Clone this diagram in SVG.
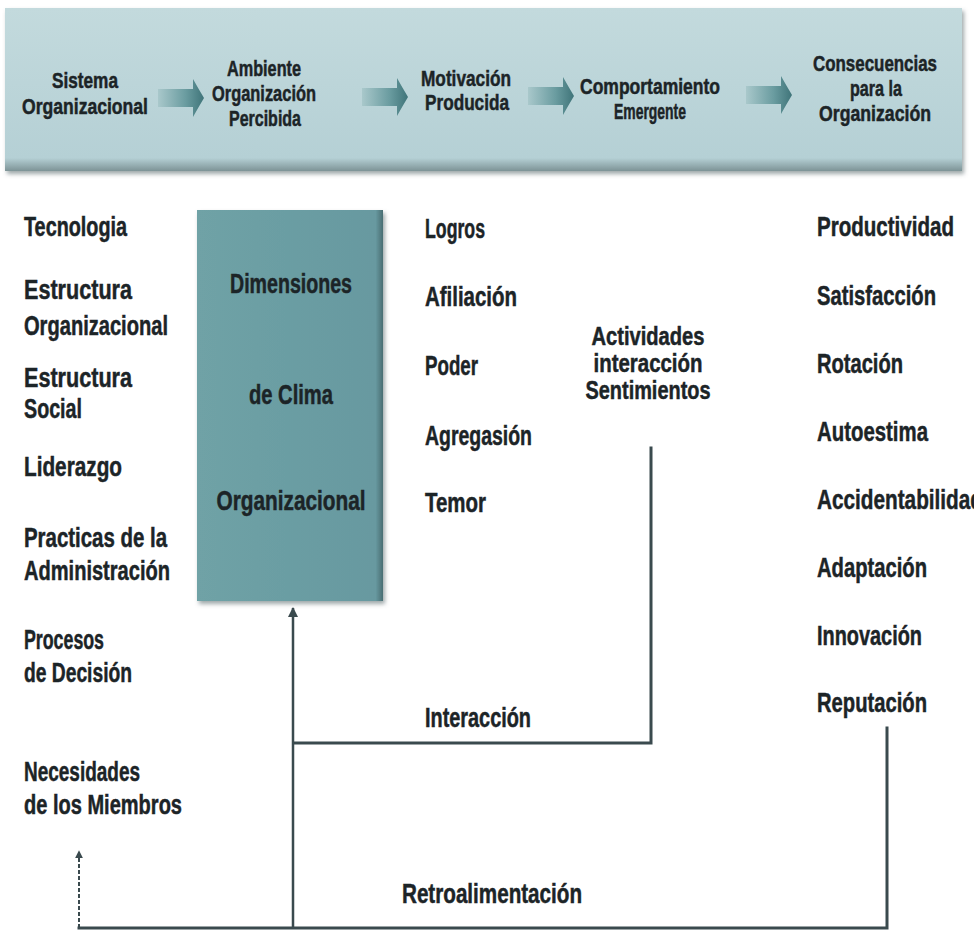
<svg xmlns="http://www.w3.org/2000/svg" width="974" height="947" viewBox="0 0 974 947">
  <defs>
    <linearGradient id="hdrGrad" x1="0" y1="0" x2="0" y2="1">
      <stop offset="0" stop-color="#c3dadd"/>
      <stop offset="0.92" stop-color="#b5d0d5"/>
      <stop offset="1" stop-color="#7d9396"/>
    </linearGradient>
    <linearGradient id="boxGrad" x1="0" y1="0" x2="1" y2="0">
      <stop offset="0" stop-color="#6fa2a6"/>
      <stop offset="0.96" stop-color="#6799a0"/>
      <stop offset="1" stop-color="#4a6e72"/>
    </linearGradient>
    <linearGradient id="arrGrad" x1="0" y1="0" x2="1" y2="0">
      <stop offset="0" stop-color="#a9c8cb"/>
      <stop offset="0.6" stop-color="#6a9ca0"/>
      <stop offset="1" stop-color="#3f7479"/>
    </linearGradient>
    <filter id="soft" x="-5%" y="-5%" width="110%" height="115%">
      <feGaussianBlur in="SourceAlpha" stdDeviation="2"/>
      <feOffset dx="2" dy="3" result="b"/>
      <feFlood flood-color="#5d6e70" flood-opacity="0.6"/>
      <feComposite in2="b" operator="in"/>
      <feMerge><feMergeNode/><feMergeNode in="SourceGraphic"/></feMerge>
    </filter>
    <marker id="ah" viewBox="0 0 10 10" refX="9" refY="5" markerWidth="4" markerHeight="5" orient="auto" markerUnits="strokeWidth">
      <path d="M0,0 L10,5 L0,10 z" fill="#3a4a4e"/>
    </marker>
    <path id="blockArrow" d="M0,-9 L35,-9 L35,-19 Q40,-10 46,0 Q40,10 35,19 L35,9 L0,9 Z"/>
  </defs>
  <style>
    .t { font-family: "Liberation Sans", Arial, sans-serif; font-weight: bold; fill: #1c2427; stroke: #1c2427; stroke-width: 0.5px; }
    .h { font-size: 22px; text-anchor: middle; }
    .m { font-size: 28px; }
    .s { font-size: 26px; }
    .c { text-anchor: middle; }
    .ln { fill: none; stroke: #3a4a4e; stroke-width: 3; stroke-linecap: square; }
    .arr { fill: url(#arrGrad); }
  </style>
  <rect width="974" height="947" fill="#ffffff"/>

  <!-- Header band -->
  <g id="header">
    <rect x="5" y="8" width="957" height="163" fill="url(#hdrGrad)" filter="url(#soft)"/>
    <use href="#blockArrow" class="arr" transform="translate(158,98)"/>
    <use href="#blockArrow" class="arr" transform="translate(362,97)"/>
    <use href="#blockArrow" class="arr" transform="translate(528,96)"/>
    <use href="#blockArrow" class="arr" transform="translate(746,95)"/>
  </g>
  <g id="n-sistema" class="t h">
    <text x="85" y="88" textLength="66" lengthAdjust="spacingAndGlyphs">Sistema</text>
    <text x="85" y="114" textLength="126" lengthAdjust="spacingAndGlyphs">Organizacional</text>
  </g>
  <g id="n-ambiente" class="t h">
    <text x="264" y="76" textLength="74" lengthAdjust="spacingAndGlyphs">Ambiente</text>
    <text x="264" y="101" textLength="104" lengthAdjust="spacingAndGlyphs">Organización</text>
    <text x="265" y="126" textLength="72" lengthAdjust="spacingAndGlyphs">Percibida</text>
  </g>
  <g id="n-motivacion" class="t h">
    <text x="466" y="86" textLength="90" lengthAdjust="spacingAndGlyphs">Motivación</text>
    <text x="467" y="110" textLength="84" lengthAdjust="spacingAndGlyphs">Producida</text>
  </g>
  <g id="n-comportamiento" class="t h">
    <text x="650" y="94" textLength="140" lengthAdjust="spacingAndGlyphs">Comportamiento</text>
    <text x="650" y="119" textLength="72" lengthAdjust="spacingAndGlyphs">Emergente</text>
  </g>
  <g id="n-consecuencias" class="t h">
    <text x="875" y="71" textLength="124" lengthAdjust="spacingAndGlyphs">Consecuencias</text>
    <text x="876" y="96" textLength="52" lengthAdjust="spacingAndGlyphs">para la</text>
    <text x="875" y="121" textLength="112" lengthAdjust="spacingAndGlyphs">Organización</text>
  </g>

  <!-- Dimensiones box -->
  <g id="n-dimensiones">
    <rect x="197" y="210" width="186" height="391" fill="url(#boxGrad)" filter="url(#soft)"/>
    <text class="t m c" x="291" y="293" textLength="122" lengthAdjust="spacingAndGlyphs">Dimensiones</text>
    <text class="t m c" x="291" y="404" textLength="84" lengthAdjust="spacingAndGlyphs">de Clima</text>
    <text class="t m c" x="291" y="510" textLength="149" lengthAdjust="spacingAndGlyphs">Organizacional</text>
  </g>

  <!-- Left column -->
  <g id="n-tecnologia" class="t m"><text x="24" y="236" textLength="103" lengthAdjust="spacingAndGlyphs">Tecnologia</text></g>
  <g id="n-estructura-org" class="t m">
    <text x="24" y="299" textLength="108" lengthAdjust="spacingAndGlyphs">Estructura</text>
    <text x="24" y="335" textLength="144" lengthAdjust="spacingAndGlyphs">Organizacional</text>
  </g>
  <g id="n-estructura-soc" class="t m">
    <text x="24" y="387" textLength="108" lengthAdjust="spacingAndGlyphs">Estructura</text>
    <text x="24" y="418" textLength="58" lengthAdjust="spacingAndGlyphs">Social</text>
  </g>
  <g id="n-liderazgo" class="t m"><text x="24" y="476" textLength="98" lengthAdjust="spacingAndGlyphs">Liderazgo</text></g>
  <g id="n-practicas" class="t m">
    <text x="24" y="547" textLength="143" lengthAdjust="spacingAndGlyphs">Practicas de la</text>
    <text x="24" y="580" textLength="146" lengthAdjust="spacingAndGlyphs">Administración</text>
  </g>
  <g id="n-procesos" class="t m">
    <text x="24" y="649" textLength="80" lengthAdjust="spacingAndGlyphs">Procesos</text>
    <text x="24" y="682" textLength="108" lengthAdjust="spacingAndGlyphs">de Decisión</text>
  </g>
  <g id="n-necesidades" class="t m">
    <text x="24" y="781" textLength="116" lengthAdjust="spacingAndGlyphs">Necesidades</text>
    <text x="24" y="814" textLength="158" lengthAdjust="spacingAndGlyphs">de los Miembros</text>
  </g>

  <!-- Middle column -->
  <g id="n-logros" class="t m"><text x="425" y="238" textLength="60" lengthAdjust="spacingAndGlyphs">Logros</text></g>
  <g id="n-afiliacion" class="t m"><text x="425" y="306" textLength="92" lengthAdjust="spacingAndGlyphs">Afiliación</text></g>
  <g id="n-poder" class="t m"><text x="425" y="375" textLength="53" lengthAdjust="spacingAndGlyphs">Poder</text></g>
  <g id="n-agregasion" class="t m"><text x="425" y="445" textLength="107" lengthAdjust="spacingAndGlyphs">Agregasión</text></g>
  <g id="n-temor" class="t m"><text x="425" y="512" textLength="61" lengthAdjust="spacingAndGlyphs">Temor</text></g>
  <g id="n-interaccion" class="t m"><text x="425" y="727" textLength="106" lengthAdjust="spacingAndGlyphs">Interacción</text></g>
  <g id="n-actividades" class="t s c">
    <text x="648" y="345" textLength="113" lengthAdjust="spacingAndGlyphs">Actividades</text>
    <text x="648" y="372" textLength="109" lengthAdjust="spacingAndGlyphs">interacción</text>
    <text x="648" y="399" textLength="125" lengthAdjust="spacingAndGlyphs">Sentimientos</text>
  </g>

  <!-- Right column -->
  <g id="n-productividad" class="t m"><text x="817" y="236" textLength="137" lengthAdjust="spacingAndGlyphs">Productividad</text></g>
  <g id="n-satisfaccion" class="t m"><text x="817" y="305" textLength="119" lengthAdjust="spacingAndGlyphs">Satisfacción</text></g>
  <g id="n-rotacion" class="t m"><text x="817" y="373" textLength="86" lengthAdjust="spacingAndGlyphs">Rotación</text></g>
  <g id="n-autoestima" class="t m"><text x="817" y="441" textLength="111" lengthAdjust="spacingAndGlyphs">Autoestima</text></g>
  <g id="n-accidentabilidad" class="t m"><text x="817" y="509" textLength="166" lengthAdjust="spacingAndGlyphs">Accidentabilidad</text></g>
  <g id="n-adaptacion" class="t m"><text x="817" y="577" textLength="110" lengthAdjust="spacingAndGlyphs">Adaptación</text></g>
  <g id="n-innovacion" class="t m"><text x="817" y="645" textLength="105" lengthAdjust="spacingAndGlyphs">Innovación</text></g>
  <g id="n-reputacion" class="t m"><text x="817" y="712" textLength="110" lengthAdjust="spacingAndGlyphs">Reputación</text></g>

  <g id="n-retro" class="t m"><text x="402" y="903" textLength="180" lengthAdjust="spacingAndGlyphs">Retroalimentación</text></g>

  <!-- Connectors -->
  <g id="connectors">
    <polyline class="ln" points="651,448 651,743 294,743"/>
    <polyline class="ln" points="887,728 887,928 79,928"/>
    <line x1="293" y1="928" x2="293" y2="608" stroke="#3a4a4e" stroke-width="2.5" marker-end="url(#ah)"/>
    <line x1="79" y1="928" x2="79" y2="851" stroke="#3a4a4e" stroke-width="2" stroke-dasharray="4 2" marker-end="url(#ah)"/>
  </g>
</svg>
